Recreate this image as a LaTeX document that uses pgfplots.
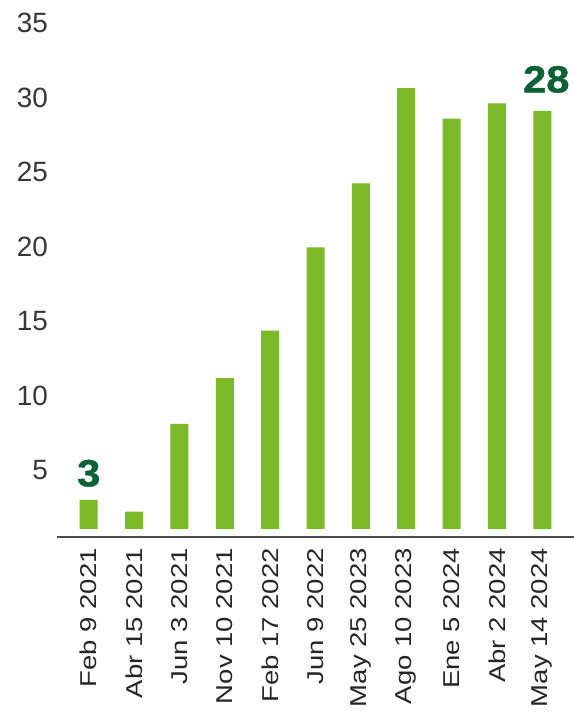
\documentclass[border=0pt]{standalone}
\usepackage{fontspec}
\setmainfont{Liberation Sans}
\newfontfamily\xlab[FakeStretch=1.2]{Liberation Sans}
\newfontfamily\biglab[FakeStretch=1.1,FakeBold=1.2]{Liberation Sans Bold}
\usepackage{pgfplots}
\pgfplotsset{compat=1.18}
\definecolor{bargreen}{RGB}{123,185,40}
\definecolor{lblgreen}{RGB}{12,98,54}
\definecolor{tickgray}{RGB}{55,55,55}
\begin{document}
\begin{tikzpicture}
\begin{axis}[
  scale only axis,
  width=517bp, height=537bp,
  xmin=-0.7, xmax=10.7,
  ymin=-0.537, ymax=35.5,
  axis x line*=bottom, axis y line*=left,
  y axis line style={draw=none},
  x axis line style={draw=black!70, line width=1.6bp},
  xtick style={draw=none}, ytick style={draw=none},
  ytick={5,10,15,20,25,30,35},
  xtick={0,1,2,3,4,5,6,7,8,9,10},
  xticklabels={Feb 9 2021,Abr 15 2021,Jun 3 2021,Nov 10 2021,Feb 17 2022,Jun 9 2022,May 25 2023,Ago 10 2023,Ene 5 2024,Abr 2 2024,May 14 2024},
  /pgf/number format/assume math mode=true,
  yticklabel style={font=\fontsize{28}{28}\selectfont, text=tickgray, yshift=-15.5bp, anchor=east, inner sep=0pt, xshift=-9bp},
  xticklabel style={font=\xlab\fontsize{23}{23}\selectfont, text=black!85, yshift=-11bp, rotate=90, anchor=east, inner sep=0pt},
  clip=false,
]
\addplot[ybar, bar width=18bp, fill=bargreen, draw=none] coordinates {
  (0,1.95) (1,1.16) (2,7.05) (3,10.13) (4,13.31) (5,18.9)
  (6,23.2) (7,29.58) (8,27.54) (9,28.57) (10,28.05)
};
\addplot[draw=none, mark=none, nodes near coords, point meta=explicit symbolic,
  nodes near coords style={anchor=south, inner sep=0pt, yshift=13bp, text=lblgreen, font=\biglab\fontsize{38}{38}\selectfont}]
  table[meta=label] {
x y label
0 1.95 3
};
\addplot[draw=none, mark=none, nodes near coords, point meta=explicit symbolic,
  nodes near coords style={anchor=south, inner sep=0pt, yshift=18bp, xshift=4bp, text=lblgreen, font=\biglab\fontsize{38}{38}\selectfont}]
  table[meta=label] {
x y label
10 28.05 28
};
\end{axis}
\pgfresetboundingbox
\path[use as bounding box] ([xshift=-57bp,yshift=-175bp]current axis.south west) rectangle (current axis.north east);
\end{tikzpicture}
\end{document}
